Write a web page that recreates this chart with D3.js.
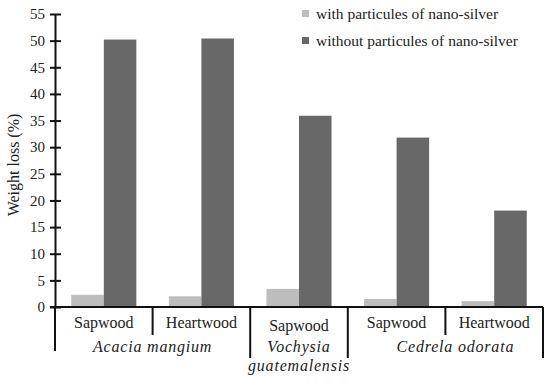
<!DOCTYPE html>
<html>
<head>
<meta charset="utf-8">
<script src="https://cdn.jsdelivr.net/npm/d3@7"></script>
<style>
  body { margin: 0; background: #fff; }
</style>
</head>
<body>
<div class="container"></div>
<script>
// data
const woods = ['Sapwood', 'Heartwood', 'Sapwood', 'Sapwood', 'Heartwood'];
const species = [
  { name: ['Acacia mangium'], from: 0, to: 2 },
  { name: ['Vochysia', 'guatemalensis'], from: 2, to: 3 },
  { name: ['Cedrela odorata'], from: 3, to: 5 }
];
const withSilver = [2.3, 2.0, 3.4, 1.5, 1.1];
const withoutSilver = [50.2, 50.4, 35.9, 31.8, 18.1];
const seriesNames = ['with particules of nano-silver', 'without particules of nano-silver'];
const seriesColors = ['#bdbdbd', '#686868'];
const yTicks = d3.range(0, 56, 5);

const width = 550;
const height = 383;
const plotLeft = 55, plotRight = 543, plotTop = 14, plotBottom = 307;
const serif = "'Liberation Serif', 'Times New Roman', Times, 'DejaVu Serif', serif";

const svg = d3.select('.container').append('svg')
  .attr('width', width).attr('height', height)
  .style('font-family', serif);

//scales
const xScale = d3.scaleBand().domain(d3.range(woods.length)).range([plotLeft, plotRight]);
const inner = d3.scaleBand().domain([0, 1]).range([0, xScale.bandwidth()]).paddingOuter(0.5);
const yScale = d3.scaleLinear().domain([0, 55]).range([plotBottom, plotTop]);

//bars
const series = [withSilver, withoutSilver];
series.forEach((vals, s) => {
  svg.append('g')
    .selectAll('rect')
    .data(vals)
    .join('rect')
    .attr('x', (d, i) => xScale(i) + inner(s))
    .attr('y', d => yScale(d))
    .attr('width', inner.bandwidth())
    .attr('height', d => plotBottom - yScale(d))
    .attr('fill', seriesColors[s]);
});

//y axis
const leftAxisGroup = svg.append('g').attr('transform', `translate(${plotLeft},0)`);
leftAxisGroup.call(d3.axisLeft(yScale).tickValues(yTicks).tickSize(0).tickPadding(10));
leftAxisGroup.attr('font-family', null).attr('font-size', null);
leftAxisGroup.select('.domain').attr('stroke', '#111').attr('stroke-width', 2);
leftAxisGroup.selectAll('.tick line').attr('x1', -5).attr('x2', 6).attr('stroke', '#111').attr('stroke-width', 2);
leftAxisGroup.selectAll('.tick text')
  .style('font-family', serif)
  .style('font-size', '15px')
  .attr('fill', '#222');

//x axis line
svg.append('line')
  .attr('x1', plotLeft - 5).attr('x2', plotRight)
  .attr('y1', plotBottom).attr('y2', plotBottom)
  .attr('stroke', '#111').attr('stroke-width', 2);

//dividers between woods
d3.range(1, woods.length).forEach(i => {
  const isSpecies = species.some(sp => sp.from === i);
  svg.append('line')
    .attr('x1', xScale(i)).attr('x2', xScale(i))
    .attr('y1', plotBottom).attr('y2', isSpecies ? 358 : 335)
    .attr('stroke', '#111').attr('stroke-width', 2);
});
[plotLeft, plotRight].forEach(x => {
  svg.append('line')
    .attr('x1', x).attr('x2', x)
    .attr('y1', plotBottom).attr('y2', x === plotLeft ? 351 : 358)
    .attr('stroke', '#111').attr('stroke-width', 2);
});

//wood labels
svg.append('g')
  .selectAll('text')
  .data(woods)
  .join('text')
  .attr('x', (d, i) => xScale(i) + xScale.bandwidth() / 2)
  .attr('y', (d, i) => (i === 2 ? 331 : 328))
  .attr('text-anchor', 'middle')
  .attr('fill', '#222')
  .style('font-size', '16px')
  .text(d => d);

//species labels
species.forEach((sp, j) => {
  const cx = (xScale(sp.from) + (sp.to < woods.length ? xScale(sp.to) : plotRight)) / 2;
  sp.name.forEach((line, k) => {
    svg.append('text')
      .attr('x', cx + (j === 2 ? 10 : 0))
      .attr('y', 352 + k * 19)
      .attr('text-anchor', 'middle')
      .attr('fill', '#222')
      .style('font-size', '16px')
      .style('font-style', 'italic')
      .attr('letter-spacing', 0.8)
      .text(line);
  });
});

//y label
svg.append('text')
  .text('Weight loss (%)')
  .attr('transform', 'translate(19,165) rotate(-90)')
  .attr('text-anchor', 'middle')
  .attr('fill', '#222')
  .style('font-size', '16px');

//legend
const legend = svg.append('g').attr('transform', 'translate(302,0)');
seriesNames.forEach((name, i) => {
  legend.append('rect')
    .attr('x', 0).attr('y', 10 + i * 27)
    .attr('width', 7).attr('height', 7)
    .attr('fill', seriesColors[i]);
  legend.append('text')
    .attr('x', 14).attr('y', 19 + i * 27)
    .attr('fill', '#222')
    .style('font-size', '15.5px')
    .text(name);
});
</script>
</body>
</html>
